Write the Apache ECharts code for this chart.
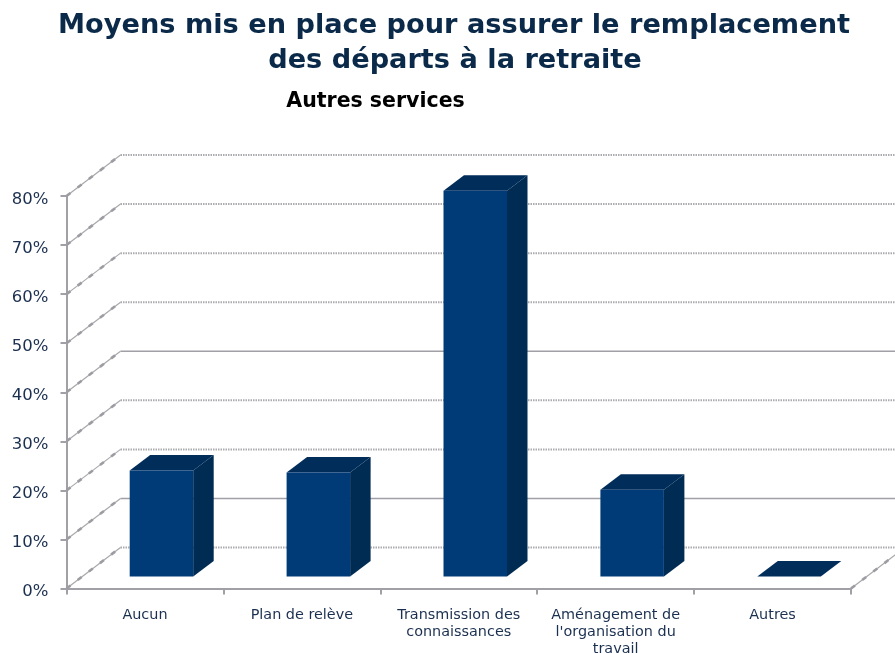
<!DOCTYPE html>
<html><head><meta charset="utf-8">
<style>html,body{margin:0;padding:0;background:#fff}#c{width:895px;height:653px}</style>
<script src="https://cdn.jsdelivr.net/npm/echarts@6/dist/echarts.min.js"></script>
</head><body><div id="c"></div>
<script>
const categories = ['Aucun','Plan de relève','Transmission des\nconnaissances','Aménagement de\nl\'organisation du\ntravail','Autres'];
const values = [21.6, 21.2, 78.6, 17.7, 0];
const gridTicks = [0,10,20,30,40,50,60,70,80];
const solidTicks = [10,40];

const DEPTH_X = 54, DEPTH_Y = -41;      // wall depth
const BAR_W = 63.5, BAR_DX = 20.5, BAR_DY = -15.5; // bar box
const BAR_SHIFT_X = 16.5, BAR_SHIFT_Y = -12;   // bar position on floor
const FRONT = '#003B77', SIDE = '#002B52', TOP = '#002D5A', INK = '#1B3050', GRID = '#A0A0A6';

function slant(x,y){
  return [
    {type:'line',shape:{x1:x,y1:y,x2:x+DEPTH_X,y2:y+DEPTH_Y},style:{stroke:'#A8A8AC',lineWidth:1.2}},
    {type:'line',shape:{x1:x,y1:y,x2:x+DEPTH_X,y2:y+DEPTH_Y},style:{stroke:'#9C9CA2',lineWidth:2.6,lineDash:[5,9]}}
  ];
}

const chart = echarts.init(document.getElementById('c'));
chart.setOption({
  animation:false,
  backgroundColor:'#fff',
  title:[
    {text:'Moyens mis en place pour assurer le remplacement',left:449,top:7.5,textAlign:'center',
     textStyle:{fontFamily:'DejaVu Sans',fontWeight:'bold',fontSize:27.2,color:'#0B2A4A'}},
    {text:'des départs à la retraite',left:450,top:42,textAlign:'center',
     textStyle:{fontFamily:'DejaVu Sans',fontWeight:'bold',fontSize:27.2,color:'#0B2A4A'}},
    {text:'Autres services',left:370.5,top:86,textAlign:'center',
     textStyle:{fontFamily:'DejaVu Sans',fontWeight:'bold',fontSize:20.5,color:'#000'}}
  ],
  grid:{left:66.5,right:44,top:196,bottom:64.5,outerBoundsMode:'none'},
  xAxis:{type:'category',data:categories,
    axisLine:{lineStyle:{color:GRID,width:2}},
    axisTick:{show:true,alignWithLabel:false,length:6,lineStyle:{color:GRID,width:2}},
    axisLabel:{interval:0,hideOverlap:false,margin:18,fontFamily:'DejaVu Sans',fontSize:14.4,lineHeight:17,color:INK},
    splitLine:{show:false}},
  yAxis:{type:'value',min:0,max:80,interval:10,
    axisLine:{show:true,lineStyle:{color:GRID,width:2}},
    axisTick:{show:true,length:6,lineStyle:{color:GRID,width:2}},
    axisLabel:{formatter:'{a|{value}%}',margin:18,
      rich:{a:{padding:[7,0,0,0],fontFamily:'DejaVu Sans',fontSize:16.5,color:INK}}},
    splitLine:{show:false}},
  series:[
    {type:'custom',silent:true,z:1,clip:false,data:gridTicks.map(v=>[v]),encode:{y:0},
     renderItem(params,api){
       const v=api.value(0), cs=params.coordSys;
       const y=api.coord([0,v])[1];
       const x0=cs.x, x1=cs.x+cs.width;
       const solid=solidTicks.includes(v);
       return {type:'group',children:slant(x0,y).concat([
         {type:'line',shape:{x1:x0+DEPTH_X,y1:y+DEPTH_Y,x2:x1+DEPTH_X,y2:y+DEPTH_Y},
          style:{stroke:solid?GRID:'#ABABB0',lineWidth:solid?1.5:2,lineDash:solid?null:[1.5,1]}}
       ])};
     }},
    {type:'custom',silent:true,z:1,clip:false,data:[[0]],encode:{y:0},
     renderItem(params,api){
       const cs=params.coordSys;
       return {type:'group',children:slant(cs.x+cs.width,cs.y+cs.height)};
     }},
    {type:'custom',z:3,clip:false,data:values.map((v,i)=>[i,v]),encode:{x:0,y:1},
     renderItem(params,api){
       const c=api.coord([api.value(0),api.value(1)]), b=api.coord([api.value(0),0]);
       const l=c[0]+BAR_SHIFT_X-BAR_W/2, r=l+BAR_W, t=c[1]+BAR_SHIFT_Y, bt=b[1]+BAR_SHIFT_Y;
       const poly=(pts,fill)=>({type:'polygon',shape:{points:pts},style:{fill}});
       return {type:'group',children:[
         poly([[r,t],[r+BAR_DX,t+BAR_DY],[r+BAR_DX,bt+BAR_DY],[r,bt]],SIDE),
         poly([[l,t],[l+BAR_DX,t+BAR_DY],[r+BAR_DX,t+BAR_DY],[r,t]],TOP),
         {type:'rect',shape:{x:l,y:t,width:BAR_W,height:bt-t},style:{fill:FRONT}}
       ]};
     }}
  ]
});
</script></body></html>
